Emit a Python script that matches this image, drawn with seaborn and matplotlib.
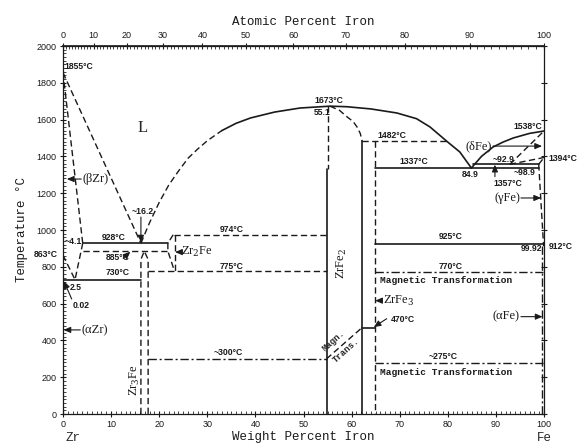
import numpy as np
import matplotlib
matplotlib.use("Agg")
import matplotlib.pyplot as plt
import seaborn as sns
from matplotlib.ticker import MultipleLocator

# Zr-Fe phase diagram (weight percent Fe vs temperature)
sns.set_theme(style="ticks")
plt.rcParams['font.family'] = ['Liberation Sans', 'DejaVu Sans']
plt.rcParams['mathtext.fontset'] = 'dejavuserif'

# --- boundary data (wt% Fe, degC) ---
zr_liquidus_w = [0, 16.2]
zr_liquidus_t = [1855, 928]
bzr_solidus_w = [0, 4.1]
bzr_solidus_t = [1855, 928]
bzr_solvus_w = [4.1, 2.5]
bzr_solvus_t = [928, 730]
azr_transus_w = [0, 2.5]
azr_transus_t = [863, 730]
azr_solvus_w = [0.02, 0.02]
azr_solvus_t = [730, 0]
eut928_w = [4.1, 21.8]
eut928_t = [928, 928]
per885_w = [4.1, 21.8]
per885_t = [885, 885]
eutd730_w = [0, 16.2]
eutd730_t = [730, 730]

zr3fe_w = [16.2, 16.2, 16.9, 17.7, 17.7]
zr3fe_t = [0, 840, 885, 840, 0]
zr2fe_left_w = [22.9, 21.8, 21.8, 23.2]
zr2fe_left_t = [974, 928, 885, 775]
zr2fe_right_w = [23.3, 23.3]
zr2fe_right_t = [974, 775]
per974_w = [23.0, 54.8]
per974_t = [974, 974]
eutd775_w = [17.7, 54.8]
eutd775_t = [775, 775]
mag300_w = [17.7, 54.8]
mag300_t = [300, 300]

liq_mid_dash_w = [16.2, 18.0, 20.0, 22.0, 24.0, 26.0, 28.0, 30.0, 33.0]
liq_mid_dash_t = [928, 1040, 1150, 1245, 1320, 1390, 1440, 1485, 1540]
liq_mid_w = [33.0, 36.0, 39.0, 44.0, 49.3, 55.5, 59.0, 64.0, 69.4, 73.5, 76.3, 79.8, 82.5, 84.9]
liq_mid_t = [1540, 1580, 1609, 1641, 1663, 1673, 1670, 1658, 1636, 1605, 1560, 1482, 1424, 1337]

zrfe2_left_top_w = [55.1, 55.1]
zrfe2_left_top_t = [1673, 1330]
zrfe2_left_w = [54.8, 54.8]
zrfe2_left_t = [1330, 0]
zrfe2_right_top_w = [55.5, 57.5, 59.0, 60.3, 61.1, 61.8, 62.2]
zrfe2_right_top_t = [1673, 1650, 1616, 1590, 1561, 1525, 1482]
zrfe2_right_w = [62.2, 62.2]
zrfe2_right_t = [1482, 0]
magn_w = [54.8, 62.2]
magn_t = [300, 470]
mag470_w = [62.2, 64.9]
mag470_t = [470, 470]

per1482_w = [62.2, 79.7]
per1482_t = [1482, 1482]
zrfe3_w = [64.9, 64.9]
zrfe3_t = [1482, 0]
eut1337_w = [64.9, 99.0]
eut1337_t = [1337, 1337]
per1357_w = [85.3, 98.9]
per1357_t = [1357, 1357]

dfe_liquidus_w = [84.9, 87.0, 89.4, 91.5, 93.6, 97.0, 100]
dfe_liquidus_t = [1337, 1400, 1451, 1478, 1500, 1525, 1538]
dfe_solidus_w = [92.9, 100]
dfe_solidus_t = [1357, 1538]
dg_upper_w = [92.9, 100]
dg_upper_t = [1357, 1394]
dg_lower_w = [98.9, 100]
dg_lower_t = [1357, 1394]
gfe_solvus_w = [98.9, 99.92]
gfe_solvus_t = [1357, 912]
afe_solvus_w = [99.6, 99.6]
afe_solvus_t = [912, 0]
eutd925_w = [64.9, 99.92]
eutd925_t = [925, 925]
mag770_w = [64.9, 100]
mag770_t = [770, 770]
mag275_w = [64.9, 100]
mag275_t = [275, 275]

fig = plt.figure(figsize=(5.82, 4.45), dpi=100)
ax = fig.add_axes([63 / 582, 31 / 445, 481 / 582, 368 / 445])

SOLID = '-'
DASH = (0, (4.5, 2.5))
DASHDOT = (0, (6, 2, 1.5, 2))

boundaries = [
    (zr_liquidus_w, zr_liquidus_t, DASH),
    (bzr_solidus_w, bzr_solidus_t, DASH),
    (bzr_solvus_w, bzr_solvus_t, DASH),
    (azr_transus_w, azr_transus_t, DASH),
    (azr_solvus_w, azr_solvus_t, SOLID),
    (eut928_w, eut928_t, SOLID),
    (per885_w, per885_t, DASH),
    (eutd730_w, eutd730_t, SOLID),
    (zr3fe_w, zr3fe_t, DASH),
    (zr2fe_left_w, zr2fe_left_t, DASH),
    (zr2fe_right_w, zr2fe_right_t, DASH),
    (per974_w, per974_t, DASH),
    (eutd775_w, eutd775_t, DASH),
    (mag300_w, mag300_t, DASHDOT),
    (liq_mid_dash_w, liq_mid_dash_t, DASH),
    (liq_mid_w, liq_mid_t, SOLID),
    (zrfe2_left_top_w, zrfe2_left_top_t, DASH),
    (zrfe2_left_w, zrfe2_left_t, SOLID),
    (zrfe2_right_top_w, zrfe2_right_top_t, DASH),
    (zrfe2_right_w, zrfe2_right_t, SOLID),
    (magn_w, magn_t, DASH),
    (mag470_w, mag470_t, SOLID),
    (per1482_w, per1482_t, DASH),
    (zrfe3_w, zrfe3_t, DASH),
    (eut1337_w, eut1337_t, SOLID),
    (per1357_w, per1357_t, SOLID),
    (dfe_liquidus_w, dfe_liquidus_t, SOLID),
    (dfe_solidus_w, dfe_solidus_t, DASH),
    (dg_upper_w, dg_upper_t, DASH),
    (dg_lower_w, dg_lower_t, DASH),
    (gfe_solvus_w, gfe_solvus_t, DASH),
    (afe_solvus_w, afe_solvus_t, DASHDOT),
    (eutd925_w, eutd925_t, SOLID),
    (mag770_w, mag770_t, DASHDOT),
    (mag275_w, mag275_t, DASHDOT),
]

for w, t, ls in boundaries:
    sns.lineplot(x=w, y=t, ax=ax, sort=False, estimator=None, color='#1a1a1a',
                 linewidth=1.2 if ls == SOLID else 1.0, linestyle=ls)

ax.set_xlim(0, 100)
ax.set_ylim(0, 2000)

# ticks
ax.xaxis.set_major_locator(MultipleLocator(10))
ax.xaxis.set_minor_locator(MultipleLocator(1))
ax.yaxis.set_major_locator(MultipleLocator(200))
ax.yaxis.set_minor_locator(MultipleLocator(20))
ax.tick_params(which='major', direction='inout', length=5, width=0.8, labelsize=6.5,
               colors='#1a1a1a', pad=2, right=True, top=False)
ax.tick_params(which='minor', direction='in', length=2, width=0.6, right=False, top=False)
for s in ax.spines.values():
    s.set_color('#1a1a1a')
    s.set_linewidth(0.9)


def wt_to_at(w):
    w = np.asarray(w, float)
    nfe = w / 55.845
    nzr = (100 - w) / 91.224
    return 100 * nfe / (nfe + nzr)


def at_to_wt(a):
    a = np.asarray(a, float)
    mfe = a * 55.845
    mzr = (100 - a) * 91.224
    return 100 * mfe / (mfe + mzr)


secax = ax.secondary_xaxis('top', functions=(wt_to_at, at_to_wt))
secax.set_xticks(range(0, 101, 10))
secax.xaxis.set_minor_locator(MultipleLocator(1))
secax.tick_params(which='major', direction='inout', length=5, width=0.8, labelsize=6.5,
                  colors='#1a1a1a', pad=2)
secax.tick_params(which='minor', direction='in', length=2, width=0.6)

mono = ['Liberation Mono', 'DejaVu Sans Mono']
serif = ['Liberation Serif', 'DejaVu Serif']
secax.set_xlabel("Atomic Percent Iron", family=mono, fontsize=9, labelpad=4, color='#1a1a1a')
ax.set_xlabel("Weight Percent Iron", family=mono, fontsize=9, labelpad=1, color='#1a1a1a')
ax.set_ylabel("Temperature °C", family=mono, fontsize=9, labelpad=6, color='#1a1a1a')
ax.text(0.005, -0.066, "Zr", transform=ax.transAxes, family=mono, fontsize=9, ha='left', va='center')
ax.text(1.0, -0.066, "Fe", transform=ax.transAxes, family=mono, fontsize=9, ha='center', va='center')

# numeric labels
small = dict(fontsize=6.2, fontweight='bold', color='#1a1a1a')
labels = [
    (0.4, 1886, "1855°C", 'left'), (16.5, 1098, "~16.2", 'center'),
    (35.0, 1003, "974°C", 'center'), (10.6, 958, "928°C", 'center'),
    (0.4, 938, "~4.1", 'left'), (-1.0, 866, "863°C", 'right'),
    (11.4, 848, "885°C", 'center'), (11.4, 768, "730°C", 'center'),
    (1.5, 690, "2.5", 'left'), (3.8, 590, "0.02", 'center'),
    (35.0, 802, "775°C", 'center'), (34.4, 334, "~300°C", 'center'),
    (55.3, 1703, "1673°C", 'center'), (55.6, 1640, "55.1", 'right'),
    (68.3, 1511, "1482°C", 'center'), (73.0, 1371, "1337°C", 'center'),
    (84.7, 1300, "84.9", 'center'), (92.4, 1255, "1357°C", 'center'),
    (91.5, 1382, "~92.9", 'center'), (96.0, 1310, "~98.9", 'center'),
    (99.7, 1563, "1538°C", 'right'), (101.0, 1391, "1394°C", 'left'),
    (80.6, 964, "925°C", 'center'), (99.6, 897, "99.92", 'right'),
    (101.0, 913, "912°C", 'left'), (80.6, 800, "770°C", 'center'),
    (79.0, 311, "~275°C", 'center'), (70.6, 516, "470°C", 'center'),
]
for x, y, s, ha in labels:
    ax.text(x, y, s, ha=ha, va='center', clip_on=False, **small)

magfont = dict(family=mono, fontsize=6.8, fontweight='bold', color='#1a1a1a')
ax.text(65.9, 728, "Magnetic Transformation", ha='left', va='center', **magfont)
ax.text(65.9, 228, "Magnetic Transformation", ha='left', va='center', **magfont)

# phase labels
phase = dict(family=serif, fontsize=9, color='#1a1a1a')
ax.text(16.6, 1554, "L", ha='center', va='center', family=serif, fontsize=12)
ax.text(4.0, 1277, "(βZr)", ha='left', va='center', **phase)
ax.text(3.8, 457, "(αZr)", ha='left', va='center', **phase)
ax.text(24.5, 880, "Zr$_2$Fe", ha='left', va='center', **phase)
ax.text(15.0, 185, "Zr$_3$Fe", ha='center', va='center', rotation=90, **phase)
ax.text(58.0, 820, "ZrFe$_2$", ha='center', va='center', rotation=90, **phase)
ax.text(66.5, 616, "ZrFe$_3$", ha='left', va='center', **phase)
ax.text(89.2, 1456, "(δFe)", ha='right', va='center', **phase)
ax.text(95.0, 1174, "(γFe)", ha='right', va='center', **phase)
ax.text(95.0, 529, "(αFe)", ha='right', va='center', **phase)
ax.text(56.3, 400, "Magn.", ha='center', va='center', rotation=42, fontsize=6.5,
        fontweight='bold', family=mono)
ax.text(58.8, 345, "Trans.", ha='center', va='center', rotation=42, fontsize=6.5,
        fontweight='bold', family=mono)

# arrows
arrow = dict(arrowstyle='-|>,head_length=0.35,head_width=0.15', color='#1a1a1a', lw=0.8,
             shrinkA=0, shrinkB=0)
arrows = [
    ((3.8, 1277), (0.8, 1277)), ((3.6, 457), (0.1, 457)),
    ((24.2, 880), (23.3, 880)), ((66.3, 616), (64.9, 616)),
    ((89.4, 1456), (99.6, 1456)), ((95.2, 1174), (99.4, 1174)),
    ((95.2, 529), (99.7, 529)), ((89.8, 1290), (89.8, 1355)),
    ((16.2, 1070), (16.2, 932)), ((12.5, 846), (14.0, 882)),
    ((1.8, 625), (0.2, 722)), ((67.3, 518), (64.6, 472)),
]
for (x0, y0), (x1, y1) in arrows:
    ax.annotate("", xy=(x1, y1), xytext=(x0, y0), arrowprops=arrow)

fig.savefig("out.png", dpi=100)
